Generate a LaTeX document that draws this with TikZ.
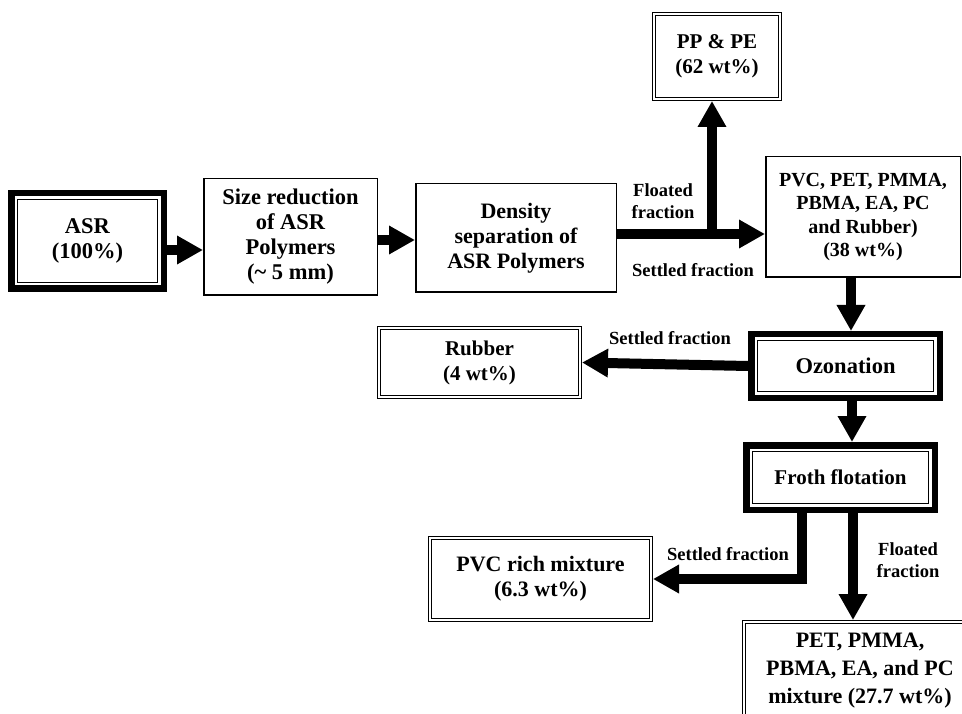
\documentclass[tikz,border=0pt]{standalone}
\usepackage{fontspec}
\setmainfont{Liberation Serif}
\usetikzlibrary{arrows.meta}
\newcommand\boxtxt{\fontsize{22}{25}\selectfont\bfseries}
\newcommand\lbltxt{\fontsize{18.5}{22}\selectfont\bfseries}
\begin{document}
\begin{tikzpicture}[
  x=1pt, y=-1pt,
  plain/.style={draw,line width=1.5pt,align=center,inner sep=0pt,font=\boxtxt},
  dbl/.style={draw,line width=1.2pt,double,double distance=2pt,outer sep=2.2pt,align=center,inner sep=0pt,font=\boxtxt},
  heavy/.style={draw,line width=6.5pt,align=center,inner sep=0pt,font=\boxtxt,
    path picture={\draw[line width=1.3pt] ([xshift=6pt,yshift=-6pt]path picture bounding box.north west) rectangle ([xshift=-6pt,yshift=6pt]path picture bounding box.south east);}},
  lbl/.style={align=center,inner sep=0pt,font=\lbltxt},
  arr/.style={line width=10pt,-{Triangle[length=26pt,width=27pt]}}
]
\clip (0,0) rectangle (962,714);
% Row 1
\node[heavy,minimum width=152.5pt,minimum height=95.5pt,font=\fontsize{22.5}{25}\selectfont\bfseries] (asr) at (87.5,241) {ASR\\(100\%)};
\node[plain,minimum width=173.5pt,minimum height=116.5pt,font=\fontsize{22.5}{25}\selectfont\bfseries] (size) at (290.5,237) {Size reduction\\of ASR\\Polymers\\(\textasciitilde{} 5 mm)};
\node[plain,minimum width=200.5pt,minimum height=108.5pt] (dens) at (516,238) {Density\\separation of\\ASR Polymers};
\node[dbl,minimum width=125.6pt,minimum height=84.6pt,font=\fontsize{21}{25}\selectfont\bfseries] (pp) at (717,56.5) {PP \& PE\\(62 wt\%)};
\node[plain,minimum width=194.5pt,minimum height=120.5pt,font=\fontsize{20}{23.5}\selectfont\bfseries] (pvc) at (863,217) {PVC, PET, PMMA,\\PBMA, EA, PC\\and Rubber)\\(38 wt\%)};
% Row 2
\node[heavy,minimum width=188.5pt,minimum height=63.5pt,font=\fontsize{22.5}{25}\selectfont\bfseries] (ozon) at (845.5,366) {Ozonation};
\node[dbl,minimum width=200.6pt,minimum height=68.6pt,font=\fontsize{21}{25}\selectfont\bfseries] (rub) at (479.5,362.5) {Rubber\\(4 wt\%)};
% Row 3
\node[heavy,minimum width=188.5pt,minimum height=64.5pt,font=\fontsize{21}{25}\selectfont\bfseries] (froth) at (840.5,477.5) {Froth flotation};
\node[dbl,minimum width=220.6pt,minimum height=81.6pt] (pvcrich) at (540.5,579) {PVC rich mixture\\(6.3 wt\%)};
\node[dbl,minimum width=231.6pt,minimum height=97.6pt] (mix) at (860,671) {PET, PMMA,\\[3pt]PBMA, EA, and PC\\[3pt]mixture (27.7 wt\%)};
% labels
\node[lbl] (fl1) at (663,201) {Floated\\fraction};
\node[lbl] (st1) at (693,270) {Settled fraction};
\node[lbl] (st2) at (670,338) {Settled fraction};
\node[lbl] (st3) at (728,554) {Settled fraction};
\node[lbl] (fl2) at (908,560) {Floated\\fraction};

\coordinate (split) at (712,234);
\draw[arr] ([yshift=-9pt]asr.east) -- ([yshift=-9pt]asr.east -| size.west);
\draw[arr] ([yshift=-3pt]size.east) -- ([yshift=-3pt]size.east -| dens.west);
\draw[arr] ([yshift=4pt]dens.east) -- ([yshift=4pt]dens.east -| pvc.west);
\draw[arr] (split) -- (split |- pp.south);
\draw[arr] ([xshift=-12pt]pvc.south) -- ([xshift=-12pt]pvc.south |- ozon.north);
\draw[arr] (ozon.west) -- (rub.east);
\draw[arr] ([xshift=6.5pt]ozon.south) -- ([xshift=6.5pt]ozon.south |- froth.north);
\draw[arr] ([xshift=-38.5pt]froth.south) |- (pvcrich.east);
\draw[arr] ([xshift=12.5pt]froth.south) -- ([xshift=12.5pt]froth.south |- mix.north);
\end{tikzpicture}
\end{document}
